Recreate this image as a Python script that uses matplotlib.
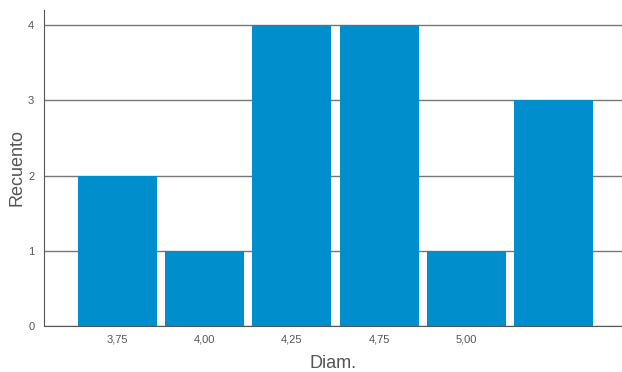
import matplotlib.pyplot as plt

counts = [2, 1, 4, 4, 1, 3]
tick_labels = ['3,75', '4,00', '4,25', '4,75', '5,00']

plt.rcParams['font.family'] = ['Liberation Sans', 'DejaVu Sans']

fig = plt.figure(figsize=(6.22, 3.72), dpi=100)
ax = fig.add_axes([44 / 622, 46 / 372, 1 - 44 / 622, 316 / 372])

pos = list(range(len(counts)))
ax.bar(pos, counts, width=0.906, color='#008ecc', zorder=3)

ax.set_xlim(-0.843, 5.786)
ax.set_ylim(0, 4.2)
ax.set_yticks([0, 1, 2, 3, 4])
ax.set_xticks(pos[:len(tick_labels)])
ax.set_xticklabels(tick_labels)
ax.tick_params(length=0, labelsize=8, colors='#555555')
ax.tick_params(axis='x', pad=6)
ax.tick_params(axis='y', pad=7)

ax.grid(axis='y', color='#777777', linewidth=1, zorder=1)
for s in ['top', 'right']:
    ax.spines[s].set_visible(False)
for s in ['left', 'bottom']:
    ax.spines[s].set_color('#555555')
    ax.spines[s].set_zorder(4)

ax.set_xlabel('Diam.', fontsize=13, color='#555555')
ax.set_ylabel('Recuento', fontsize=13, color='#555555')
ax.xaxis.label.set_va('center')
ax.yaxis.label.set_va('center')
ax.xaxis.set_label_coords(0.5, -37 / 316)
ax.yaxis.set_label_coords(-27 / 578, 0.5)

fig.savefig('out.png', dpi=100)
